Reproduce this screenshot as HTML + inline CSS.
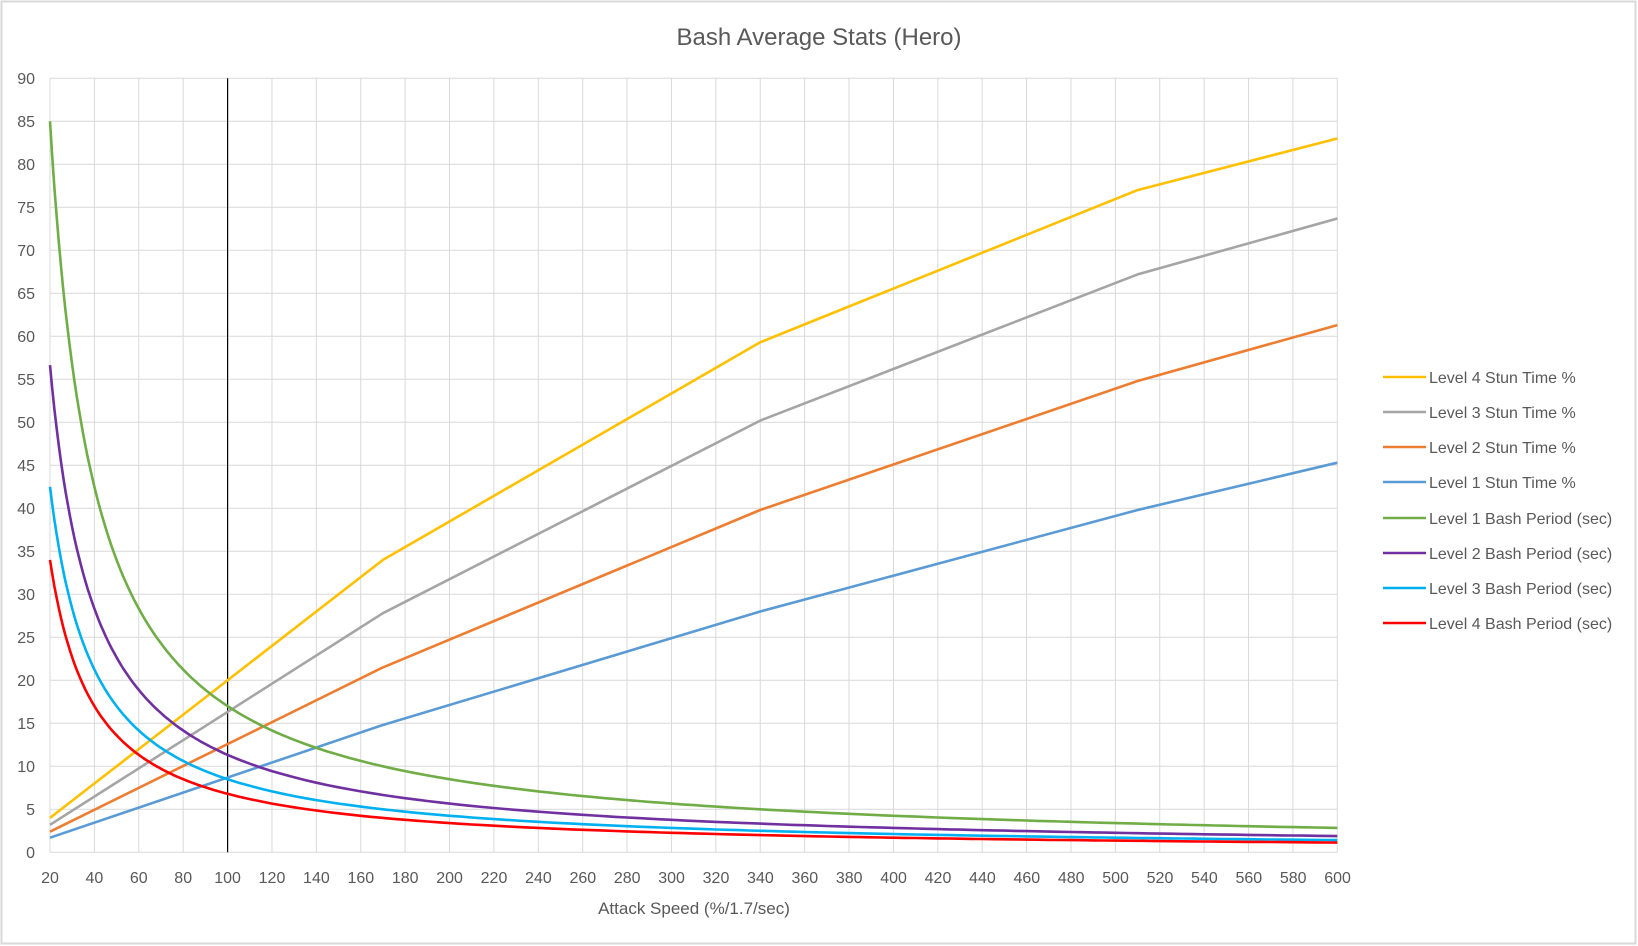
<!DOCTYPE html>
<html><head><meta charset="utf-8"><style>
html,body{margin:0;padding:0;background:#fff;}
svg{display:block;}
text{font-family:"Liberation Sans",sans-serif;fill:#595959;}
</style></head><body>
<svg id="s" width="1638" height="946" xmlns="http://www.w3.org/2000/svg">
<rect x="1.5" y="1.5" width="1634" height="942" fill="#fff" stroke="#d9d9d9" stroke-width="2"/>
<text x="819" y="45" font-size="24" text-anchor="middle">Bash Average Stats (Hero)</text>
<g id="grid" stroke="#d9d9d9" stroke-width="1"></g>
<line x1="227.6" y1="78.3" x2="227.6" y2="852.3" stroke="#000" stroke-width="1.2"/>
<g font-size="16" text-anchor="end">
<text x="35" y="858">0</text><text x="35" y="815">5</text><text x="35" y="772">10</text><text x="35" y="729">15</text><text x="35" y="686">20</text><text x="35" y="643">25</text><text x="35" y="600">30</text><text x="35" y="557">35</text><text x="35" y="514">40</text><text x="35" y="471">45</text><text x="35" y="428">50</text><text x="35" y="385">55</text><text x="35" y="342">60</text><text x="35" y="299">65</text><text x="35" y="256">70</text><text x="35" y="213">75</text><text x="35" y="170">80</text><text x="35" y="127">85</text><text x="35" y="84">90</text>
</g>
<g font-size="16" text-anchor="middle">
<text x="50.0" y="883">20</text><text x="94.4" y="883">40</text><text x="138.8" y="883">60</text><text x="183.2" y="883">80</text><text x="227.6" y="883">100</text><text x="272.0" y="883">120</text><text x="316.4" y="883">140</text><text x="360.8" y="883">160</text><text x="405.2" y="883">180</text><text x="449.6" y="883">200</text><text x="494.0" y="883">220</text><text x="538.4" y="883">240</text><text x="582.8" y="883">260</text><text x="627.2" y="883">280</text><text x="671.6" y="883">300</text><text x="716.0" y="883">320</text><text x="760.4" y="883">340</text><text x="804.8" y="883">360</text><text x="849.2" y="883">380</text><text x="893.6" y="883">400</text><text x="938.0" y="883">420</text><text x="982.4" y="883">440</text><text x="1026.8" y="883">460</text><text x="1071.2" y="883">480</text><text x="1115.6" y="883">500</text><text x="1160.0" y="883">520</text><text x="1204.4" y="883">540</text><text x="1248.8" y="883">560</text><text x="1293.2" y="883">580</text><text x="1337.6" y="883">600</text>
</g>
<text x="694" y="914" font-size="17" text-anchor="middle">Attack Speed (%/1.7/sec)</text>
<g id="series" fill="none" stroke-width="2.6" stroke-linejoin="round"></g>
<g font-size="16" stroke-width="2.6">
<line x1="1383" y1="377" x2="1426" y2="377" stroke="#ffc000"/><text x="1429" y="383">Level 4 Stun Time %</text>
<line x1="1383" y1="412" x2="1426" y2="412" stroke="#a5a5a5"/><text x="1429" y="418">Level 3 Stun Time %</text>
<line x1="1383" y1="447" x2="1426" y2="447" stroke="#ed7d31"/><text x="1429" y="453">Level 2 Stun Time %</text>
<line x1="1383" y1="482" x2="1426" y2="482" stroke="#5b9bd5"/><text x="1429" y="488">Level 1 Stun Time %</text>
<line x1="1383" y1="518" x2="1426" y2="518" stroke="#70ad47"/><text x="1429" y="524">Level 1 Bash Period (sec)</text>
<line x1="1383" y1="553" x2="1426" y2="553" stroke="#7030a0"/><text x="1429" y="559">Level 2 Bash Period (sec)</text>
<line x1="1383" y1="588" x2="1426" y2="588" stroke="#00b0f0"/><text x="1429" y="594">Level 3 Bash Period (sec)</text>
<line x1="1383" y1="623" x2="1426" y2="623" stroke="#ff0000"/><text x="1429" y="629">Level 4 Bash Period (sec)</text>
</g>
</svg>
<script>
var NS="http://www.w3.org/2000/svg";
function X(v){return 50+(v-20)*2.2195;}
function Y(v){return 852.3-v*8.6;}
var g=document.getElementById("grid");
for(var i=0;i<=18;i++){var l=document.createElementNS(NS,"line");l.setAttribute("x1",50);l.setAttribute("x2",1337.6);l.setAttribute("y1",Y(i*5));l.setAttribute("y2",Y(i*5));g.appendChild(l);}
for(var v=20;v<=600;v+=20){var l=document.createElementNS(NS,"line");l.setAttribute("x1",X(v));l.setAttribute("x2",X(v));l.setAttribute("y1",Y(90));l.setAttribute("y2",Y(0));g.appendChild(l);}
var s=document.getElementById("series");
function add(pts,c){var p=document.createElementNS(NS,"polyline");p.setAttribute("points",pts.map(function(q){return X(q[0]).toFixed(1)+","+Y(q[1]).toFixed(1);}).join(" "));p.setAttribute("stroke",c);s.appendChild(p);}
add([[20,1.7],[170,14.8],[340,28],[510,39.8],[600,45.3]],"#5b9bd5");
add([[20,2.4],[170,21.5],[340,39.8],[510,54.8],[600,61.3]],"#ed7d31");
add([[20,3.2],[170,27.8],[340,50.2],[510,67.2],[600,73.7]],"#a5a5a5");
add([[20,4],[170,34],[340,59.3],[510,77],[600,83]],"#ffc000");
function hyp(k,c){var a=[];for(var x=20;x<=600;x+=(x<100?1:5))a.push([x,k/x]);add(a,c);}
hyp(1700,"#70ad47");hyp(1133,"#7030a0");hyp(850,"#00b0f0");hyp(680,"#ff0000");
</script>
</body></html>
